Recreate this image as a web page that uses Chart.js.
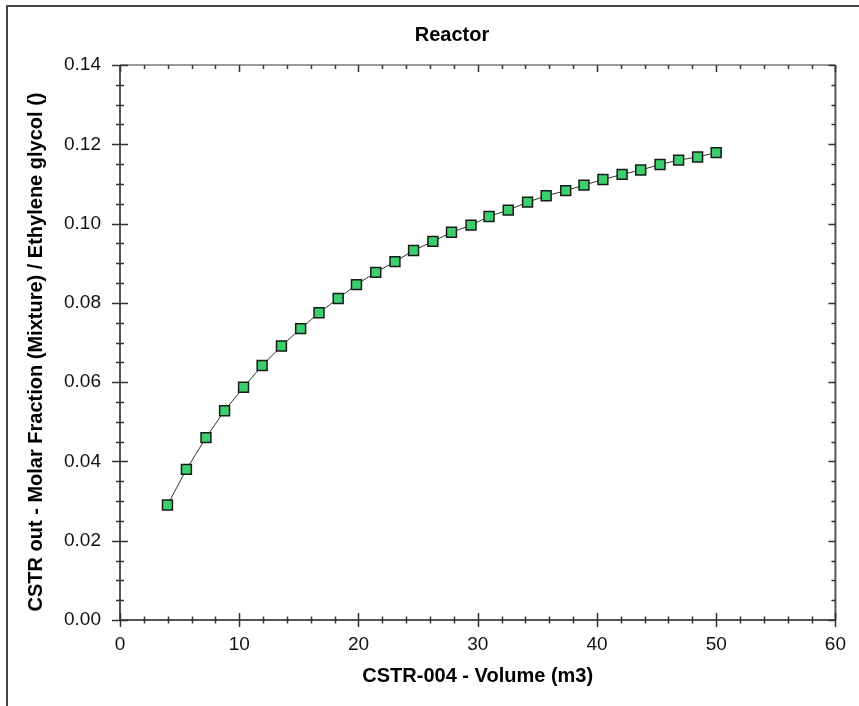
<!DOCTYPE html>
<html>
<head>
<meta charset="utf-8">
<title>Reactor</title>
<script src="https://cdn.jsdelivr.net/npm/chart.js@4.4.1/dist/chart.umd.min.js"></script>
<style>
  html, body { margin: 0; padding: 0; background: #fff; }
  #wrap { width: 859px; height: 706px; }
</style>
</head>
<body>
<div id="wrap"><canvas id="chart" width="859" height="706"></canvas></div>
<script>
// ── Data ──────────────────────────────────────────────────────────
const TITLE = 'Reactor';
const X_TITLE = 'CSTR-004 - Volume (m3)';
const Y_TITLE = 'CSTR out - Molar Fraction (Mixture) / Ethylene glycol ()';

const volume = [3.98, 5.57, 7.21, 8.77, 10.36, 11.92, 13.54, 15.15, 16.69, 18.30,
                19.83, 21.45, 23.06, 24.62, 26.24, 27.80, 29.44, 30.95, 32.56, 34.18,
                35.74, 37.38, 38.91, 40.50, 42.11, 43.67, 45.29, 46.85, 48.44, 50.00];
const glycol = [0.0290, 0.0380, 0.0460, 0.0528, 0.0587, 0.0642, 0.0691, 0.0735, 0.0775, 0.0811,
                0.0846, 0.0877, 0.0904, 0.0932, 0.0955, 0.0978, 0.0996, 0.1018, 0.1034, 0.1054,
                0.1070, 0.1083, 0.1097, 0.1111, 0.1124, 0.1135, 0.1149, 0.1160, 0.1168, 0.1179];

const xTicks = [0, 10, 20, 30, 40, 50, 60];
const yTicks = [0.00, 0.02, 0.04, 0.06, 0.08, 0.10, 0.12, 0.14];
const xMinorStep = 2;
const yMinorStep = 0.005;

const FONT = '"Liberation Sans", Arial, sans-serif';

// ── Frame, ticks and titles drawn around the plot ─────────────────
const framePlugin = {
    id: 'frame',
    beforeDraw(chart) {
        const ctx = chart.ctx;
        ctx.save();
        ctx.strokeStyle = '#444';
        ctx.lineWidth = 2;
        ctx.beginPath();
        ctx.moveTo(7, 706);
        ctx.lineTo(7, 6);
        ctx.lineTo(859, 6);
        ctx.stroke();
        ctx.restore();
    },
    afterDraw(chart) {
        const ctx = chart.ctx;
        const { left, right, top, bottom } = chart.chartArea;
        const xs = chart.scales.x, ys = chart.scales.y;
        ctx.save();

        // axis lines
        ctx.lineWidth = 2;
        ctx.strokeStyle = '#999';
        ctx.beginPath(); ctx.moveTo(left, top); ctx.lineTo(right, top); ctx.stroke();
        ctx.strokeStyle = '#555';
        ctx.beginPath(); ctx.moveTo(right, top); ctx.lineTo(right, bottom); ctx.stroke();
        ctx.beginPath(); ctx.moveTo(left, top); ctx.lineTo(left, bottom); ctx.lineTo(right, bottom); ctx.stroke();

        ctx.strokeStyle = '#333';
        ctx.lineWidth = 1.5;
        // x ticks
        for (let v = xs.min; v <= xs.max + 1e-9; v += xMinorStep) {
            const px = Math.round(xs.getPixelForValue(v)) + 0.5;
            const major = xTicks.includes(Math.round(v));
            const l = major ? 7 : 3.5;
            ctx.beginPath();
            ctx.moveTo(px, bottom - l); ctx.lineTo(px, bottom + l);
            ctx.moveTo(px, top); ctx.lineTo(px, top + (major ? 7 : 4));
            ctx.stroke();
        }
        // y ticks
        for (let i = 0; i * yMinorStep <= ys.max + 1e-9; i++) {
            const v = i * yMinorStep;
            const py = Math.round(ys.getPixelForValue(v)) + 0.5;
            const major = i % 4 === 0;
            const l = major ? 8 : 4;
            ctx.beginPath();
            ctx.moveTo(left - l, py); ctx.lineTo(left + l, py);
            ctx.moveTo(right, py); ctx.lineTo(right - (major ? 7 : 4), py);
            ctx.stroke();
        }

        // chart title
        ctx.fillStyle = '#000';
        ctx.font = 'bold 20px ' + FONT;
        ctx.textAlign = 'center';
        ctx.textBaseline = 'middle';
        ctx.fillText(TITLE, 452, 35);

        // y axis title
        ctx.font = 'bold 20px ' + FONT;
        ctx.translate(36, 352);
        ctx.rotate(-Math.PI / 2);
        ctx.fillText(Y_TITLE, 0, 0);
        ctx.restore();
    }
};

// ── Chart ─────────────────────────────────────────────────────────
new Chart(document.getElementById('chart'), {
    type: 'scatter',
    data: {
        datasets: [{
            data: volume.map((v, i) => ({ x: v, y: glycol[i] })),
            showLine: true,
            borderColor: '#333',
            borderWidth: 1,
            pointStyle: 'rect',
            pointRadius: 7,
            pointBackgroundColor: '#3ccf6e',
            pointBorderColor: '#1a1a1a',
            pointBorderWidth: 1.5
        }]
    },
    options: {
        responsive: false,
        animation: false,
        layout: { padding: { left: 8, right: 21, top: 65, bottom: 0 } },
        plugins: { legend: { display: false }, title: { display: false }, tooltip: { enabled: false } },
        scales: {
            x: {
                type: 'linear', min: 0, max: 60,
                afterBuildTicks: s => { s.ticks = xTicks.map(v => ({ value: v })); },
                afterFit: s => { s.height = 86; },
                grid: { display: false, drawTicks: false },
                border: { display: false },
                ticks: { color: '#111', font: { family: FONT, size: 19 }, padding: 13, maxRotation: 0,
                         callback: v => String(v) },
                title: { display: true, text: X_TITLE, color: '#000',
                         font: { family: FONT, size: 20, weight: 'bold' }, padding: { top: 18, bottom: 18 } }
            },
            y: {
                type: 'linear', min: 0, max: 0.14,
                afterBuildTicks: s => { s.ticks = yTicks.map(v => ({ value: v })); },
                afterFit: s => { s.width = 112; },
                grid: { display: false, drawTicks: false },
                border: { display: false },
                ticks: { color: '#111', font: { family: FONT, size: 19 }, padding: 19,
                         callback: v => Number(v).toFixed(2) },
                title: { display: false }
            }
        }
    },
    plugins: [framePlugin]
});
</script>
</body>
</html>
